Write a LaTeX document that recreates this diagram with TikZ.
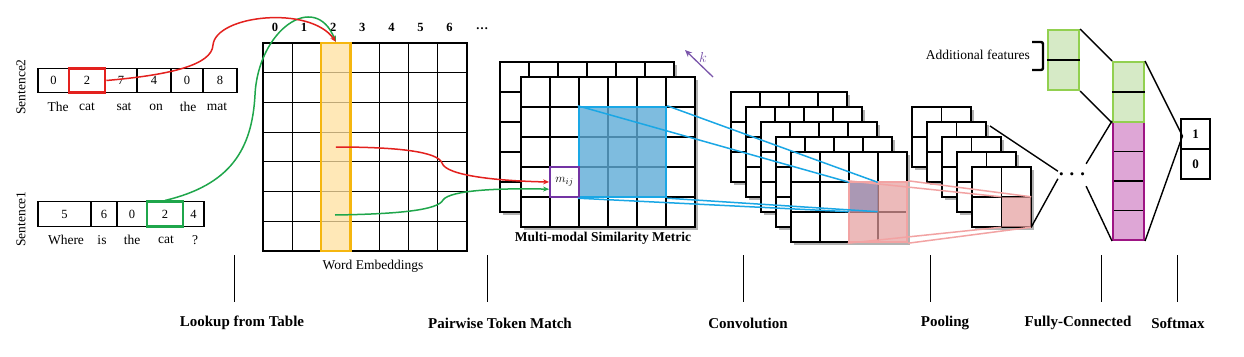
\documentclass[tikz,border=0pt]{standalone}
\usepackage{fontspec}
\setmainfont{Liberation Serif}
\usepackage{xcolor}
\definecolor{rougeMot}{HTML}{E3211E}
\definecolor{vertMot}{HTML}{1FA64B}
\definecolor{orBord}{HTML}{F5B60F}
\definecolor{orFond}{HTML}{FFE1A0}
\definecolor{cyanBord}{HTML}{1AA7E5}
\definecolor{bleuFond}{HTML}{5EACD8}
\definecolor{roseBord}{HTML}{F2A3A3}
\definecolor{roseFond}{HTML}{E49E9E}
\definecolor{grisMauve}{HTML}{948DB3}
\definecolor{violetMij}{HTML}{7334A3}
\definecolor{violetK}{HTML}{7A55AA}
\definecolor{vertFc}{HTML}{92D050}
\definecolor{vertFcFond}{HTML}{D6EAC6}
\definecolor{magentaFc}{HTML}{9E1584}
\definecolor{magentaFcFond}{HTML}{DEA6D6}
\usepackage{tikz}
\usetikzlibrary{arrows.meta, shadows}
\newcommand{\taille}[1]{\fontsize{#1}{#1}\selectfont}
%% grid of cells: [style] x, y, columns, rows, cell width, cell height
\newcommand{\grille}[7][]{%
  \path[fill=white, #1] (#2,#3) rectangle ++({#4*#6},{#5*#7});
  \foreach \ic in {1,...,#4}{\draw[trait] ({#2+\ic*#6},#3) -- ++(0,{#5*#7});}
  \foreach \ir in {1,...,#5}{\draw[trait] (#2,{#3+\ir*#7}) -- ++({#4*#6},0);}
  \draw[trait] (#2,#3) rectangle ++({#4*#6},{#5*#7});
}
\tikzset{
  %% ── Grids ────────────────────────────────────────────────────────────
  %% Plain black cells; the stacked layers get a soft shadow so that the
  %% depth of the stack reads at a glance.
  trait/.style      = {draw=black, line width=1.2pt},
  couche/.style     = {drop shadow={shadow xshift=2.5pt, shadow yshift=-2.5pt,
                       opacity=0.3, fill=black}},
  case/.style       = {draw=black, line width=1.1pt, inner sep=0pt,
                       minimum height=24.5pt, font=\taille{12.5}},
  mot/.style        = {inner sep=1pt, font=\taille{13.5}},
  numero/.style     = {inner sep=1pt, font=\taille{12.5}\bfseries},
  %%
  %% ── Highlights ───────────────────────────────────────────────────────
  caseRouge/.style  = {draw=rougeMot, line width=2.6pt, minimum height=24.5pt,
                       inner sep=0pt},
  caseVerte/.style  = {draw=vertMot, line width=2.6pt, minimum height=24.5pt,
                       inner sep=0pt},
  colonneEmb/.style = {draw=orBord, fill=orFond, fill opacity=0.75,
                       line width=2.4pt, minimum width=29.1pt,
                       minimum height=208pt, inner sep=0pt},
  zoneBleue/.style  = {draw=cyanBord, fill=bleuFond, fill opacity=0.8,
                       line width=2.4pt, inner sep=0pt},
  caseMij/.style    = {draw=violetMij, line width=1.8pt, minimum width=29pt,
                       minimum height=30pt, inner sep=0pt, font=\taille{13}},
  zoneRose/.style   = {draw=roseBord, fill=roseFond, fill opacity=0.7,
                       line width=2.4pt, inner sep=0pt},
  caseGrise/.style  = {fill=grisMauve, fill opacity=0.75, minimum width=28pt,
                       minimum height=29pt, inner sep=0pt},
  caseRoseP/.style  = {fill=roseFond, fill opacity=0.7, minimum width=29.5pt,
                       minimum height=30pt, inner sep=0pt},
  colVerte/.style   = {draw=vertFc, fill=vertFcFond, line width=2pt,
                       minimum width=31pt, inner sep=0pt},
  colViolette/.style= {draw=magentaFc, fill=magentaFcFond, line width=2pt,
                       minimum width=31pt, inner sep=0pt},
  caseSm/.style     = {draw=black, line width=1.1pt, minimum width=29pt,
                       minimum height=30pt, inner sep=0pt,
                       font=\taille{13}\bfseries},
  suite/.style      = {minimum width=16pt, minimum height=22pt, inner sep=0pt,
                       font=\boldmath\taille{20}},
  %%
  %% ── Links ────────────────────────────────────────────────────────────
  flecheRouge/.style= {-{Stealth[length=6pt, width=5pt]}, draw=rougeMot,
                       line width=1.5pt},
  flecheVerte/.style= {-{Stealth[length=6pt, width=5pt]}, draw=vertMot,
                       line width=1.5pt},
  flecheK/.style    = {-{Stealth[length=7pt, width=6pt]}, draw=violetK,
                       line width=1.3pt},
  lienBleu/.style   = {draw=cyanBord, line width=1.5pt},
  lienRose/.style   = {draw=roseBord, line width=1.5pt},
  lien/.style       = {draw=black, line width=1.4pt},
  crochet/.style    = {draw=black, line width=2.4pt, rounded corners=2pt},
  repere/.style     = {draw=black, line width=0.8pt},
  %%
  %% ── Text ─────────────────────────────────────────────────────────────
  etiquette/.style  = {inner sep=1pt, font=\taille{13.5}},
  titreGrille/.style= {inner sep=1pt, font=\taille{13.5}\bfseries},
  titreEtape/.style = {inner sep=1pt, font=\taille{15}\bfseries},
}

\begin{document}
\begin{tikzpicture}[x=1pt, y=-1pt]
\fill[white] (0,0) rectangle (1244,356);
\useasboundingbox (0,0) rectangle (1244,356);

\node[etiquette, rotate=90] (phrase2) at (21,87) {Sentence2};
\node[etiquette, rotate=90] (phrase1) at (21,219) {Sentence1};
\foreach \xa/\xb/\v/\m/\xm [count=\i] in {38/69/0/The/58, 69/105/2/cat/87,
    105/137/7/sat/124, 137/171/4/on/156, 171/203/0/the/188, 203/237/8/mat/217}
  {\node[case, minimum width=\xb-\xa] (s2-\i) at ({(\xa+\xb)/2},80.5) {\v};
   \node[mot] (m2-\i) at (\xm,107) {\m};}
\foreach \xa/\xb/\v/\m/\xm [count=\i] in {38/91/5/Where/66, 91/117/6/is/102,
    117/147/0/the/132, 147/183/2/cat/166, 183/204/4/?/195}
  {\node[case, minimum width=\xb-\xa] (s1-\i) at ({(\xa+\xb)/2},214) {\v};
   \node[mot] (m1-\i) at (\xm,240) {\m};}
\node[caseRouge, minimum width=36pt] (motRouge) at (87,80.5) {};
\node[caseVerte, minimum width=36pt] (motVert) at (165,214) {};

\grille{263}{43}{7}{7}{29.14}{29.71}
\node[colonneEmb] (colonne) at (335.8,147) {};
\foreach \n in {0,...,6} \node[numero] (num\n) at ({275+29.1*\n},27) {\n};
\node[numero] (numSuite) at (482,29) {\dots};
\node[etiquette] (nomEmb) at (373,266) {Word Embeddings};
\coordinate (vertEmb) at (335,215);

\grille[couche]{500}{62}{6}{5}{29}{30}
\grille[couche]{521}{77}{6}{5}{29}{30}
\node[zoneBleue, minimum width=87pt, minimum height=90pt] (bleu) at (622.5,152) {};
\node[caseMij] (mij) at (564.5,182) {$m_{ij}$};
\node[titreGrille] (nomSim) at (603,238) {Multi-modal Similarity Metric};
\coordinate (kBas) at (713,77);
\coordinate (kHaut) at (685,50);
\draw[flecheK] (kBas) -- (kHaut);
\node[inner sep=1pt, text=violetK, font=\taille{15}] (k) at (703,57) {$k$};

\draw[flecheVerte] (motVert.north) .. controls (230,185) and (252,150) .. (255,95)
     .. controls (258,30) and (315,-10) .. (colonne.north);
\draw[flecheRouge] (motRouge.east) .. controls (170,75) and (212,65) .. (213,45)
     .. controls (216,15) and (310,5) .. (colonne.north);
\draw[flecheRouge] (colonne.center) .. controls (400,147) and (438,152) .. (442,163)
     .. controls (446,176) and (500,181) .. (mij.west);
\draw[flecheVerte] (vertEmb) .. controls (400,214) and (438,210) .. (443,200)
     .. controls (450,190) and (500,188) .. (mij.205);

\foreach \nc in {0,...,4} {\grille[couche]{731+15*\nc}{92+15*\nc}{4}{3}{29}{30}}
\node[zoneRose, minimum width=58pt, minimum height=60pt] (rose) at (878,212) {};
\node[caseGrise] (gris) at (863.5,197) {};
\draw[lienBleu] (bleu.north west) -- (gris.north west);
\draw[lienBleu] (bleu.north east) -- (gris.north east);
\draw[lienBleu] (bleu.south west) -- (gris.south west);
\draw[lienBleu] (bleu.south east) -- (gris.south east);

\foreach \nc in {0,...,4} {\grille[couche]{912+15*\nc}{107+15*\nc}{2}{2}{29.5}{30}}
\node[caseRoseP] (roseP) at (1016.25,212) {};
\draw[lienRose] (rose.north west) -- (roseP.north west);
\draw[lienRose] (rose.north east) -- (roseP.north east);
\draw[lienRose] (rose.south west) -- (roseP.south west);
\draw[lienRose] (rose.south east) -- (roseP.south east);

\node[suite] (suite) at (1072,175) {$\cdots$};
\coordinate (coinPool) at (990,126);
\draw[lien] (coinPool) -- (suite.165);
\draw[lien] (roseP.south east) -- (suite.195);

\node[colVerte, minimum height=60pt] (extra) at (1063.5,60) {};
\draw[trait] (extra.west) -- (extra.east);
\node[colViolette, minimum height=118pt] (fcViolet) at (1128.5,181) {};
\foreach \yy in {151.5,181,210.5} \draw[trait] (1114,\yy) -- (1143,\yy);
\node[colVerte, minimum height=60pt] (fcVert) at (1128.5,92) {};
\draw[trait] (fcVert.west) -- (fcVert.east);
\node[etiquette, anchor=east] (nomExtra) at (1031,55) {Additional features};
\draw[crochet] (1032,42) -- (1043,42) -- (1043,70) -- (1032,70);

\draw[lien] (extra.north east) -- (fcVert.north west);
\draw[lien] (extra.south east) -- (fcVert.south west);
\draw[lien] (suite.north east) -- (fcViolet.north west);
\draw[lien] (suite.south east) -- (fcViolet.south west);

\node[caseSm] (sm1) at (1195.5,134) {1};
\node[caseSm] (sm0) at (1195.5,164) {0};
\draw[lien] (fcVert.north east) -- ([xshift=2pt, yshift=-2pt]sm1.west)
     -- (fcViolet.south east);

\foreach \xt/\xl/\t [count=\i] in {234/242/Lookup from Table,
    487/500/Pairwise Token Match, 743/748/Convolution, 930/945/Pooling,
    1101/1078/Fully-Connected, 1177/1178/Softmax}
  {\draw[repere] (\xt,255) -- (\xt,302);
   \node[titreEtape] (etape\i) at (\xl,323) {\t};}

\end{tikzpicture}
\end{document}
